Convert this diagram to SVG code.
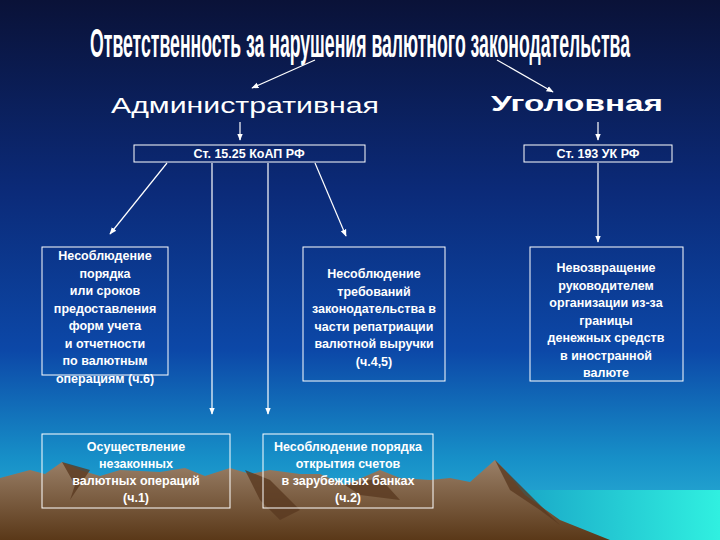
<svg xmlns="http://www.w3.org/2000/svg" width="720" height="540" viewBox="0 0 720 540">
<defs>
<linearGradient id="bg" x1="0" y1="0" x2="0" y2="1">
<stop offset="0" stop-color="#0a1238"/>
<stop offset="0.35" stop-color="#0b2a78"/>
<stop offset="0.65" stop-color="#0c48a8"/>
<stop offset="0.85" stop-color="#1790c8"/>
<stop offset="1" stop-color="#30b8d8"/>
</linearGradient>
<linearGradient id="sea" x1="0" y1="0" x2="1" y2="0">
<stop offset="0" stop-color="#1aa8c8"/>
<stop offset="1" stop-color="#30f0e0"/>
</linearGradient>
<linearGradient id="mt" x1="0" y1="0" x2="0" y2="1">
<stop offset="0" stop-color="#9a8068"/>
<stop offset="1" stop-color="#5a3818"/>
</linearGradient>
<marker id="ah" viewBox="0 0 10 10" refX="9" refY="5" markerWidth="6" markerHeight="6" orient="auto"><path d="M0,1 L10,5 L0,9 z" fill="#fff"/></marker>
</defs>
<style>
.box{fill:none;stroke:#fff;stroke-width:1}
.t{font-family:"Liberation Sans",Arial,sans-serif;font-weight:bold;font-size:12.5px;fill:#fff;text-anchor:middle}
.c{stroke:#fff;stroke-width:1.2;fill:none;marker-end:url(#ah)}
</style>
<rect width="720" height="540" fill="url(#bg)"/>
<rect x="520" y="490" width="200" height="50" fill="url(#sea)"/>
<path d="M0,540 L0,478 L30,470 L45,474 L62,462 L80,470 L100,476 L120,470 L160,472 L185,468 L205,476 L230,468 L250,474 L270,470 L300,474 L320,474 L345,485 L380,470 L400,478 L430,480 L450,478 L470,482 L495,460 L505,470 L525,495 L560,520 L610,540 Z" fill="url(#mt)"/>
<path d="M62,462 L75,485 L70,500 L90,470 Z M245,470 L260,500 L280,520 L300,510 L270,480 Z M495,460 L510,490 L540,510 L560,525 L520,485 Z M345,485 L360,495 L400,500 L380,478 Z" fill="#5a3a20" opacity="0.8"/>
<text x="360" y="57" font-family="Liberation Sans,Arial,sans-serif" font-weight="bold" font-size="40" fill="#fff" text-anchor="middle" textLength="540" lengthAdjust="spacingAndGlyphs">Ответственность за нарушения валютного законодательства</text>
<g id="adm"><text x="245" y="113" font-family="Liberation Sans,Arial,sans-serif" font-size="22" fill="#fff" text-anchor="middle" textLength="268" lengthAdjust="spacingAndGlyphs">Административная</text></g>
<g id="ugol"><text x="577" y="111" font-family="Liberation Sans,Arial,sans-serif" font-weight="bold" font-size="22" fill="#fff" text-anchor="middle" textLength="172" lengthAdjust="spacingAndGlyphs">Уголовная</text></g>
<g id="koap"><rect class="box" x="134" y="145" width="231" height="17"/><text class="t" x="249" y="158">Ст. 15.25 КоАП РФ</text></g>
<g id="uk"><rect class="box" x="524" y="145" width="148" height="17"/><text class="t" x="598" y="158">Ст. 193 УК РФ</text></g>
<g id="n1"><rect class="box" x="42" y="247" width="126" height="128"/><text class="t" x="105" y="260"><tspan x="105">Несоблюдение</tspan><tspan x="105" dy="17.5">порядка</tspan><tspan x="105" dy="17.5">или сроков</tspan><tspan x="105" dy="17.5">предоставления</tspan><tspan x="105" dy="17.5">форм учета</tspan><tspan x="105" dy="17.5">и отчетности</tspan><tspan x="105" dy="17.5">по валютным</tspan><tspan x="105" dy="17.5">операциям (ч.6)</tspan></text></g>
<g id="n2"><rect class="box" x="303" y="247" width="142" height="134"/><text class="t" x="374" y="278"><tspan x="374">Несоблюдение</tspan><tspan x="374" dy="17.5">требований</tspan><tspan x="374" dy="17.5">законодательства в</tspan><tspan x="374" dy="17.5">части репатриации</tspan><tspan x="374" dy="17.5">валютной выручки</tspan><tspan x="374" dy="17.5">(ч.4,5)</tspan></text></g>
<g id="n3"><rect class="box" x="530" y="247" width="153" height="134"/><text class="t" x="606" y="272"><tspan x="606">Невозвращение</tspan><tspan x="606" dy="17.5">руководителем</tspan><tspan x="606" dy="17.5">организации из-за</tspan><tspan x="606" dy="17.5">границы</tspan><tspan x="606" dy="17.5">денежных средств</tspan><tspan x="606" dy="17.5">в  иностранной</tspan><tspan x="606" dy="17.5">валюте</tspan></text></g>
<g id="n4"><rect class="box" x="42" y="434" width="188" height="74"/><text class="t" x="136" y="451"><tspan x="136">Осуществление</tspan><tspan x="136" dy="17">незаконных</tspan><tspan x="136" dy="17">валютных операций</tspan><tspan x="136" dy="17">(ч.1)</tspan></text></g>
<g id="n5"><rect class="box" x="263" y="434" width="170" height="74"/><text class="t" x="348" y="451"><tspan x="348">Несоблюдение порядка</tspan><tspan x="348" dy="17">открытия счетов</tspan><tspan x="348" dy="17">в зарубежных банках</tspan><tspan x="348" dy="17">(ч.2)</tspan></text></g>
<g id="connectors">
<line class="c" x1="315" y1="60" x2="252" y2="88"/>
<line class="c" x1="497" y1="60" x2="553" y2="92"/>
<line class="c" x1="240" y1="122" x2="240" y2="140"/>
<line class="c" x1="598" y1="122" x2="598" y2="140"/>
<line class="c" x1="167" y1="163" x2="110" y2="234"/>
<line class="c" x1="212" y1="163" x2="212" y2="414"/>
<line class="c" x1="268" y1="163" x2="268" y2="414"/>
<line class="c" x1="315" y1="163" x2="346" y2="236"/>
<line class="c" x1="598" y1="163" x2="598" y2="242"/>
</g>
</svg>
